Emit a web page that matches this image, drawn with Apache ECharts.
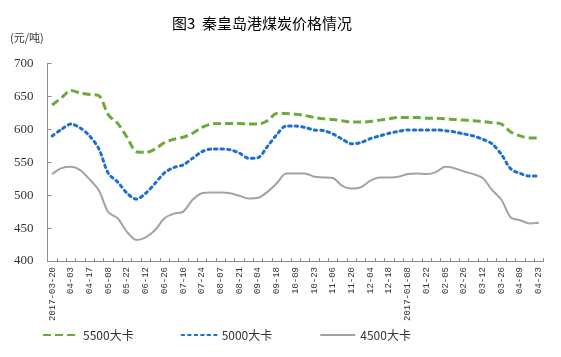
<!DOCTYPE html>
<html>
<head>
<meta charset="utf-8">
<script src="https://cdn.jsdelivr.net/npm/echarts@6/dist/echarts.min.js"></script>
<style>
html,body{margin:0;padding:0;background:#fff;}
#c{width:561px;height:357px;}
</style>
</head>
<body>
<div id="c"></div>
<script>
var categories = [
  "2017-03-20","03-27","04-03","04-10","04-17","04-24","05-08","05-15","05-22","06-05",
  "06-12","06-19","06-26","07-03","07-10","07-17","07-24","07-31","08-07","08-14",
  "08-21","08-28","09-04","09-11","09-18","09-25","10-09","10-16","10-23","10-30",
  "11-06","11-13","11-20","11-27","12-04","12-11","12-18","12-25","2017-01-08","01-15",
  "01-22","01-29","02-05","02-12","02-26","03-05","03-12","03-19","03-26","04-02",
  "04-09","04-16","04-23"
];
var s5500 = [637,648,659,655,653,651,622,609,588,566,
             565,570,580,585,588,594,603,608,609,609,
             609,608,608,613,624,624,623,621,618,616,
             615,613,611,611,612,614,616,618,618,618,
             617,617,616,615,614,613,612,610,608,596,
             590,587,587];
var s5000 = [590,600,608,602,590,570,533,520,503,494,
             503,518,534,542,546,556,566,570,570,569,
             564,556,557,574,592,605,605,603,599,598,
             593,585,578,580,586,590,594,597,599,599,
             599,599,598,596,593,590,585,578,562,540,
             533,529,529];
var s4500 = [532,541,543,538,524,507,474,465,444,432,
             436,447,465,472,475,493,503,504,504,503,
             499,495,496,505,518,533,533,533,528,527,
             526,514,510,512,522,527,527,528,532,533,
             532,535,543,541,536,532,526,508,493,466,
             462,457,458];
var seriesNames = ["5500大卡","5000大卡","4500大卡"];
var yTicks = {min:400, max:700, interval:50};

var chart = echarts.init(document.getElementById('c'), null, {renderer:'canvas'});
chart.setOption({
  animation:false,
  backgroundColor:'#fff',
  title:{
    text:'图3  秦皇岛港煤炭价格情况',
    left:167, top:11,
    textStyle:{fontFamily:'Noto Sans CJK SC', fontSize:15, fontWeight:'normal', color:'#000'}
  },
  graphic:[{type:'text', left:10, top:32, style:{text:'(元/吨)', font:'11px "Noto Sans CJK SC"', fill:'#333'}}],
  legend:{
    left:37, top:324, itemWidth:35, itemHeight:10, itemGap:47,
    itemStyle:{opacity:0},
    textStyle:{fontFamily:'Noto Sans CJK SC', fontSize:12, color:'#333'},
    data:seriesNames
  },
  grid:{left:47.5, right:17.5, top:63.5, bottom:96, containLabel:false},
  xAxis:{
    type:'category', data:categories, boundaryGap:true,
    axisLine:{lineStyle:{color:'#8c8c8c', width:1}},
    axisTick:{show:true, inside:true, interval:0, length:3, lineStyle:{color:'#8c8c8c'}},
    axisLabel:{interval:1, rotate:90, margin:6, fontFamily:'Liberation Mono', fontSize:9, color:'#333'}
  },
  yAxis:{
    type:'value', min:yTicks.min, max:yTicks.max, interval:yTicks.interval,
    axisLine:{show:true, lineStyle:{color:'#8c8c8c', width:1}},
    axisTick:{show:true, inside:true, length:4, lineStyle:{color:'#8c8c8c'}},
    splitLine:{show:false},
    axisLabel:{margin:14, fontFamily:'Liberation Serif', fontSize:13, color:'#333'}
  },
  series:[
    {name:seriesNames[0], type:'line', data:s5500, smooth:0.3, symbol:'none',
     itemStyle:{color:'#6aab3c'},
     lineStyle:{color:'#6aab3c', width:3, type:[8,4]}},
    {name:seriesNames[1], type:'line', data:s5000, smooth:0.3, symbol:'none',
     itemStyle:{color:'#1f6fd1'},
     lineStyle:{color:'#1f6fd1', width:3, type:[2.5,4], cap:'round'}},
    {name:seriesNames[2], type:'line', data:s4500, smooth:0.3, symbol:'none',
     itemStyle:{color:'#a3a3a3'},
     lineStyle:{color:'#a3a3a3', width:2}}
  ]
});
</script>
</body>
</html>
